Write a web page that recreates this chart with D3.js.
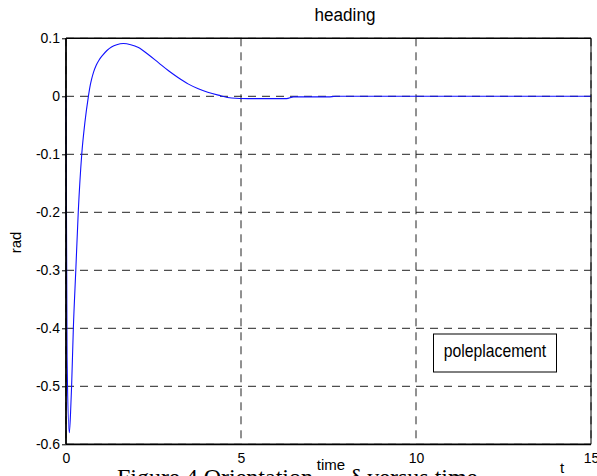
<!DOCTYPE html>
<html>
<head>
<meta charset="utf-8">
<script src="https://cdn.jsdelivr.net/npm/d3@7"></script>
<style>
  html, body { margin: 0; padding: 0; background: #fff; }
  svg { display: block; }
  .sans { font-family: "Liberation Sans", Arial, sans-serif; fill: #000; }
  .serif { font-family: "Liberation Serif", "Times New Roman", serif; fill: #000; }
</style>
</head>
<body>
<svg id="chart" width="597" height="476"></svg>
<script>
// Heading response (rad) against time (s)
const time = [0, 0.03, 0.094, 0.13, 0.16, 0.21, 0.28, 0.35, 0.45, 0.54, 0.64, 0.68, 0.73, 0.79, 0.86,
              0.95, 1.05, 1.17, 1.3, 1.45, 1.64, 1.85, 2.07, 2.35, 2.64, 2.93, 3.21, 3.5, 3.78,
              4.05, 4.35, 4.73, 5.2, 6.3, 6.5, 7.5, 7.7, 15];
const heading = [0, -0.45, -0.58, -0.546, -0.5, -0.4, -0.3, -0.2, -0.1, -0.045, 0, 0.015, 0.029, 0.042, 0.053,
                 0.063, 0.071, 0.079, 0.085, 0.089, 0.091, 0.089, 0.084, 0.072, 0.058, 0.044, 0.032, 0.021, 0.013,
                 0.007, 0.002, -0.003, -0.004, -0.004, -0.001, -0.001, 0, 0];

const xTicks = [0, 5, 10, 15];
const xTickLabels = ["0", "5", "10", "15"];
const yTicks = [0.1, 0, -0.1, -0.2, -0.3, -0.4, -0.5, -0.6];
const yTickLabels = ["0.1", "0", "-0.1", "-0.2", "-0.3", "-0.4", "-0.5", "-0.6"];

const titleText = "heading";
const xLabel = "time";
const yLabel = "rad";
const cornerLabel = "t";
const legendLabel = "poleplacement";
const captionText = "Figure 4 Orientation";
const captionTail = "δ versus time";

const svg = d3.select("#chart");
const plot = { left: 66, right: 591, top: 38.3, bottom: 444.3 };

const x = d3.scaleLinear().domain([0, 15]).range([plot.left, plot.right]);
const y = d3.scaleLinear().domain([-0.6, 0.1]).range([plot.bottom, plot.top]);

// dashed grid
const grid = svg.append("g").attr("stroke", "#222").attr("stroke-width", 1)
  .attr("stroke-dasharray", "8,6").attr("fill", "none");
grid.selectAll("line.h").data(yTicks).join("line").attr("class", "h")
  .attr("x1", plot.left).attr("x2", plot.right)
  .attr("y1", d => y(d)).attr("y2", d => y(d));
grid.selectAll("line.v").data(xTicks).join("line").attr("class", "v")
  .attr("y1", plot.top).attr("y2", plot.bottom)
  .attr("x1", d => x(d)).attr("x2", d => x(d));

// response curve
const line = d3.line()
  .x((d, i) => x(time[i]))
  .y(d => y(d))
  .curve(d3.curveMonotoneX);
svg.append("path").datum(heading)
  .attr("d", line)
  .attr("fill", "none")
  .attr("stroke", "#1010ff")
  .attr("stroke-width", 1.1);

// frame
svg.append("line").attr("x1", plot.left).attr("x2", plot.right)
  .attr("y1", plot.top).attr("y2", plot.top).attr("stroke", "#000").attr("stroke-width", 1.4);
svg.append("line").attr("x1", plot.right).attr("x2", plot.right)
  .attr("y1", plot.top).attr("y2", plot.bottom).attr("stroke", "#000").attr("stroke-width", 1);

// axes
const yAxis = svg.append("g").attr("transform", `translate(${plot.left},0)`)
  .call(d3.axisLeft(y).tickValues(yTicks).tickFormat((d, i) => yTickLabels[i])
    .tickSize(4).tickPadding(2));
const xAxis = svg.append("g").attr("transform", `translate(0,${plot.bottom})`)
  .call(d3.axisBottom(x).tickValues(xTicks).tickFormat((d, i) => xTickLabels[i])
    .tickSize(0).tickPadding(9));
[yAxis, xAxis].forEach(a => {
  a.select(".domain").attr("stroke", "#000").attr("stroke-width", 1.8);
  a.selectAll(".tick line").attr("stroke", "#000");
  a.selectAll(".tick text").attr("class", "sans").style("font-size", "14px")
    .style("font-family", '"Liberation Sans", Arial, sans-serif').attr("fill", "#000");
});
yAxis.select(".domain").attr("d", `M0,${plot.top}V${plot.bottom}`);
xAxis.select(".domain").attr("d", `M${plot.left},0H${plot.right}`);

// title
svg.append("text").attr("class", "sans")
  .attr("transform", "translate(345,21) scale(0.9,1)")
  .attr("text-anchor", "middle").style("font-size", "19px")
  .text(titleText);

// axis labels
svg.append("text").attr("class", "sans")
  .attr("transform", "translate(21,242.5) rotate(-90)")
  .attr("text-anchor", "middle").style("font-size", "15px")
  .text(yLabel);
svg.append("text").attr("class", "sans")
  .attr("x", 331).attr("y", 470)
  .attr("text-anchor", "middle").style("font-size", "15px")
  .text(xLabel);
svg.append("text").attr("class", "sans")
  .attr("x", 562).attr("y", 472.5)
  .attr("text-anchor", "middle").style("font-size", "15px")
  .text(cornerLabel);

// legend box
const lg = svg.append("g");
lg.append("rect").attr("x", 433.5).attr("y", 334).attr("width", 123).attr("height", 38)
  .attr("fill", "#fff").attr("stroke", "#000").attr("stroke-width", 1);
lg.append("text").attr("class", "sans")
  .attr("transform", "translate(495,356.7) scale(0.83,1)")
  .attr("text-anchor", "middle").style("font-size", "19px")
  .text(legendLabel);

// figure caption under the plot (runs past the lower edge)
const cap = svg.append("text").attr("class", "serif")
  .attr("x", 117).attr("y", 485).style("font-size", "24px");
cap.append("tspan").text(captionText);
cap.append("tspan").attr("x", 350).text(captionTail);
</script>
</body>
</html>
